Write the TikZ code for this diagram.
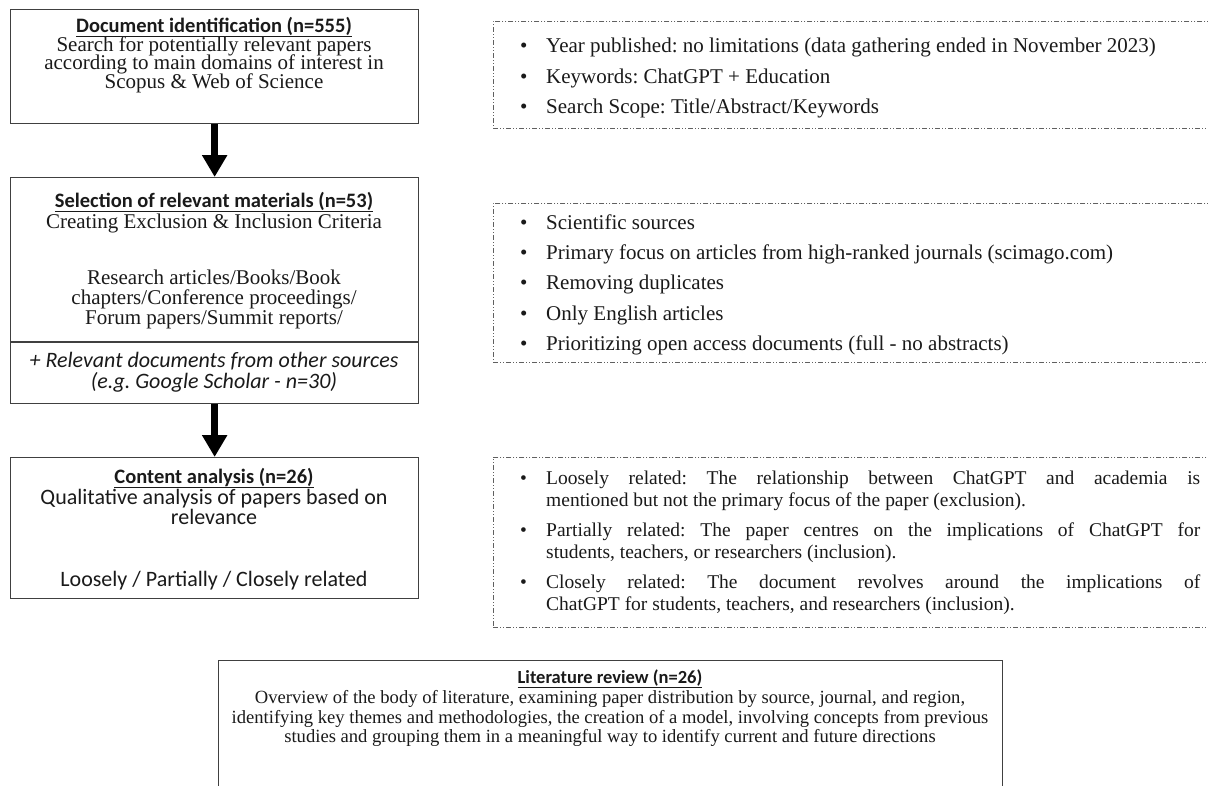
\documentclass[tikz,border=0pt]{standalone}
\usepackage{fontspec}
\setmainfont{Liberation Serif}
\newfontfamily\hfont{Carlito}
\usetikzlibrary{arrows.meta}
\definecolor{boxc}{HTML}{404040}
\definecolor{txt}{HTML}{1A1A1A}
\definecolor{dashc}{HTML}{606060}
\frenchspacing
\begin{document}
\begin{tikzpicture}[x=1pt,y=-1pt,
  box/.style={draw=boxc, line width=1.3pt, inner sep=0, anchor=north west},
  dbox/.style={draw=dashc, line width=0.8pt, inner sep=0, anchor=north west, minimum width=730pt, dash pattern=on 5pt off 2pt on 1pt off 2pt on 1pt off 2pt},
  hd/.style={font=\hfont\bfseries\fontsize{20.5}{22}\selectfont, inner sep=0, anchor=base, text=txt},
  hdr/.style={font=\hfont\fontsize{22}{24}\selectfont, inner sep=0, anchor=base, text=txt},
  hdi/.style={font=\hfont\itshape\fontsize{22}{24}\selectfont, inner sep=0, anchor=base, text=txt},
  body/.style={font=\fontsize{21}{22}\selectfont, inner sep=0, anchor=base, text=txt},
  rt/.style={font=\fontsize{21}{22}\selectfont, inner sep=0, anchor=base west, text=txt},
  rc/.style={font=\fontsize{19.5}{21}\selectfont, inner sep=0, anchor=base west, text=txt},
  lit/.style={font=\fontsize{18.6}{20}\selectfont, inner sep=0, anchor=base, text=txt},
  lith/.style={font=\hfont\bfseries\fontsize{18.5}{20}\selectfont, inner sep=0, anchor=base, text=txt},
  arr/.style={draw=black, line width=7pt, -{Triangle[length=22pt,width=24pt]}}
]
\useasboundingbox (0,0) rectangle (1208,785);
\fill[white] (0,0) rectangle (1208,785);

% left boxes
\node[box, minimum width=408pt, minimum height=114pt] (b1) at (10,9) {};
\node[box, minimum width=408pt, minimum height=226pt] (b2) at (10,177) {};
\node[box, minimum width=408pt, minimum height=141pt] (b3) at (10,457) {};
\coordinate (sepL) at (10,342);
\coordinate (sepR) at (418,342);
\draw[draw=boxc, line width=1.3pt] (sepL) -- (sepR);

\draw[arr] (b1.south) -- (b2.north);
\draw[arr] (b2.south) -- (b3.north);

% box 1 text
\node[hd] (t1) at (214,32) {\underline{Document identification (n=555)}};
\node[body] (t1a) at (214,51) {Search for potentially relevant papers};
\node[body] (t1b) at (214,69) {according to main domains of interest in};
\node[body] (t1c) at (214,88) {Scopus \& Web of Science};

% box 2 text
\node[hd] (t2) at (214,207) {\underline{Selection of relevant materials (n=53)}};
\node[body] (t2a) at (214,228) {Creating Exclusion \& Inclusion Criteria};
\node[body] (t2b) at (214,284) {Research articles/Books/Book};
\node[body] (t2c) at (214,304) {chapters/Conference proceedings/};
\node[body] (t2d) at (214,324) {Forum papers/Summit reports/};
\node[hdi] (t2e) at (214,367) {+ Relevant documents from other sources};
\node[hdi] (t2f) at (214,388) {(e.g. Google Scholar - n=30)};

% box 3 text
\node[hd] (t3) at (214,483) {\underline{Content analysis (n=26)}};
\node[hdr] (t3a) at (214,504) {Qualitative analysis of papers based on};
\node[hdr] (t3b) at (214,524) {relevance};
\node[hdr] (t3c) at (214,586) {Loosely / Partially / Closely related};

% dashed boxes
\node[dbox, minimum height=107pt] (dA) at (493,21) {};
\node[dbox, minimum height=159pt] (dB) at (493,203) {};
\node[dbox, minimum height=170pt] (dC) at (493,457) {};

% A
\node[rt] (a1b) at (520,52) {•};
\node[rt] (a1) at (546,52) {Year published: no limitations (data gathering ended in November 2023)};
\node[rt] (a2b) at (520,83) {•};
\node[rt] (a2) at (546,83) {Keywords: ChatGPT + Education};
\node[rt] (a3b) at (520,113) {•};
\node[rt] (a3) at (546,113) {Search Scope: Title/Abstract/Keywords};

% B
\node[rt] (bb1) at (520,229) {•};
\node[rt] (bt1) at (546,229) {Scientific sources};
\node[rt] (bb2) at (520,259) {•};
\node[rt] (bt2) at (546,259) {Primary focus on articles from high-ranked journals (scimago.com)};
\node[rt] (bb3) at (520,289) {•};
\node[rt] (bt3) at (546,289) {Removing duplicates};
\node[rt] (bb4) at (520,320) {•};
\node[rt] (bt4) at (546,320) {Only English articles};
\node[rt] (bb5) at (520,350) {•};
\node[rt] (bt5) at (546,350) {Prioritizing open access documents (full - no abstracts)};

% C
\node[rc] (cb1) at (520,484) {•};
\node[rc] (ct1) at (546,484) {\makebox[654pt][s]{Loosely related: The relationship between ChatGPT and academia is}};
\node[rc] (ct1b) at (546,506) {mentioned but not the primary focus of the paper (exclusion).};
\node[rc] (cb2) at (520,536) {•};
\node[rc] (ct2) at (546,536) {\makebox[654pt][s]{Partially related: The paper centres on the implications of ChatGPT for}};
\node[rc] (ct2b) at (546,558) {students, teachers, or researchers (inclusion).};
\node[rc] (cb3) at (520,588) {•};
\node[rc] (ct3) at (546,588) {\makebox[654pt][s]{Closely related: The document revolves around the implications of}};
\node[rc] (ct3b) at (546,610) {ChatGPT for students, teachers, and researchers (inclusion).};

% literature box
\node[box, minimum width=784pt, minimum height=150pt] (b4) at (218,660) {};
\node[lith] (t4) at (610,683) {\underline{Literature review (n=26)}};
\node[lit] (t4a) at (610,703) {Overview of the body of literature, examining paper distribution by source, journal, and region,};
\node[lit] (t4b) at (610,723) {identifying key themes and methodologies, the creation of a model, involving concepts from previous};
\node[lit] (t4c) at (610,742) {studies and grouping them in a meaningful way to identify current and future directions};
\end{tikzpicture}
\end{document}
